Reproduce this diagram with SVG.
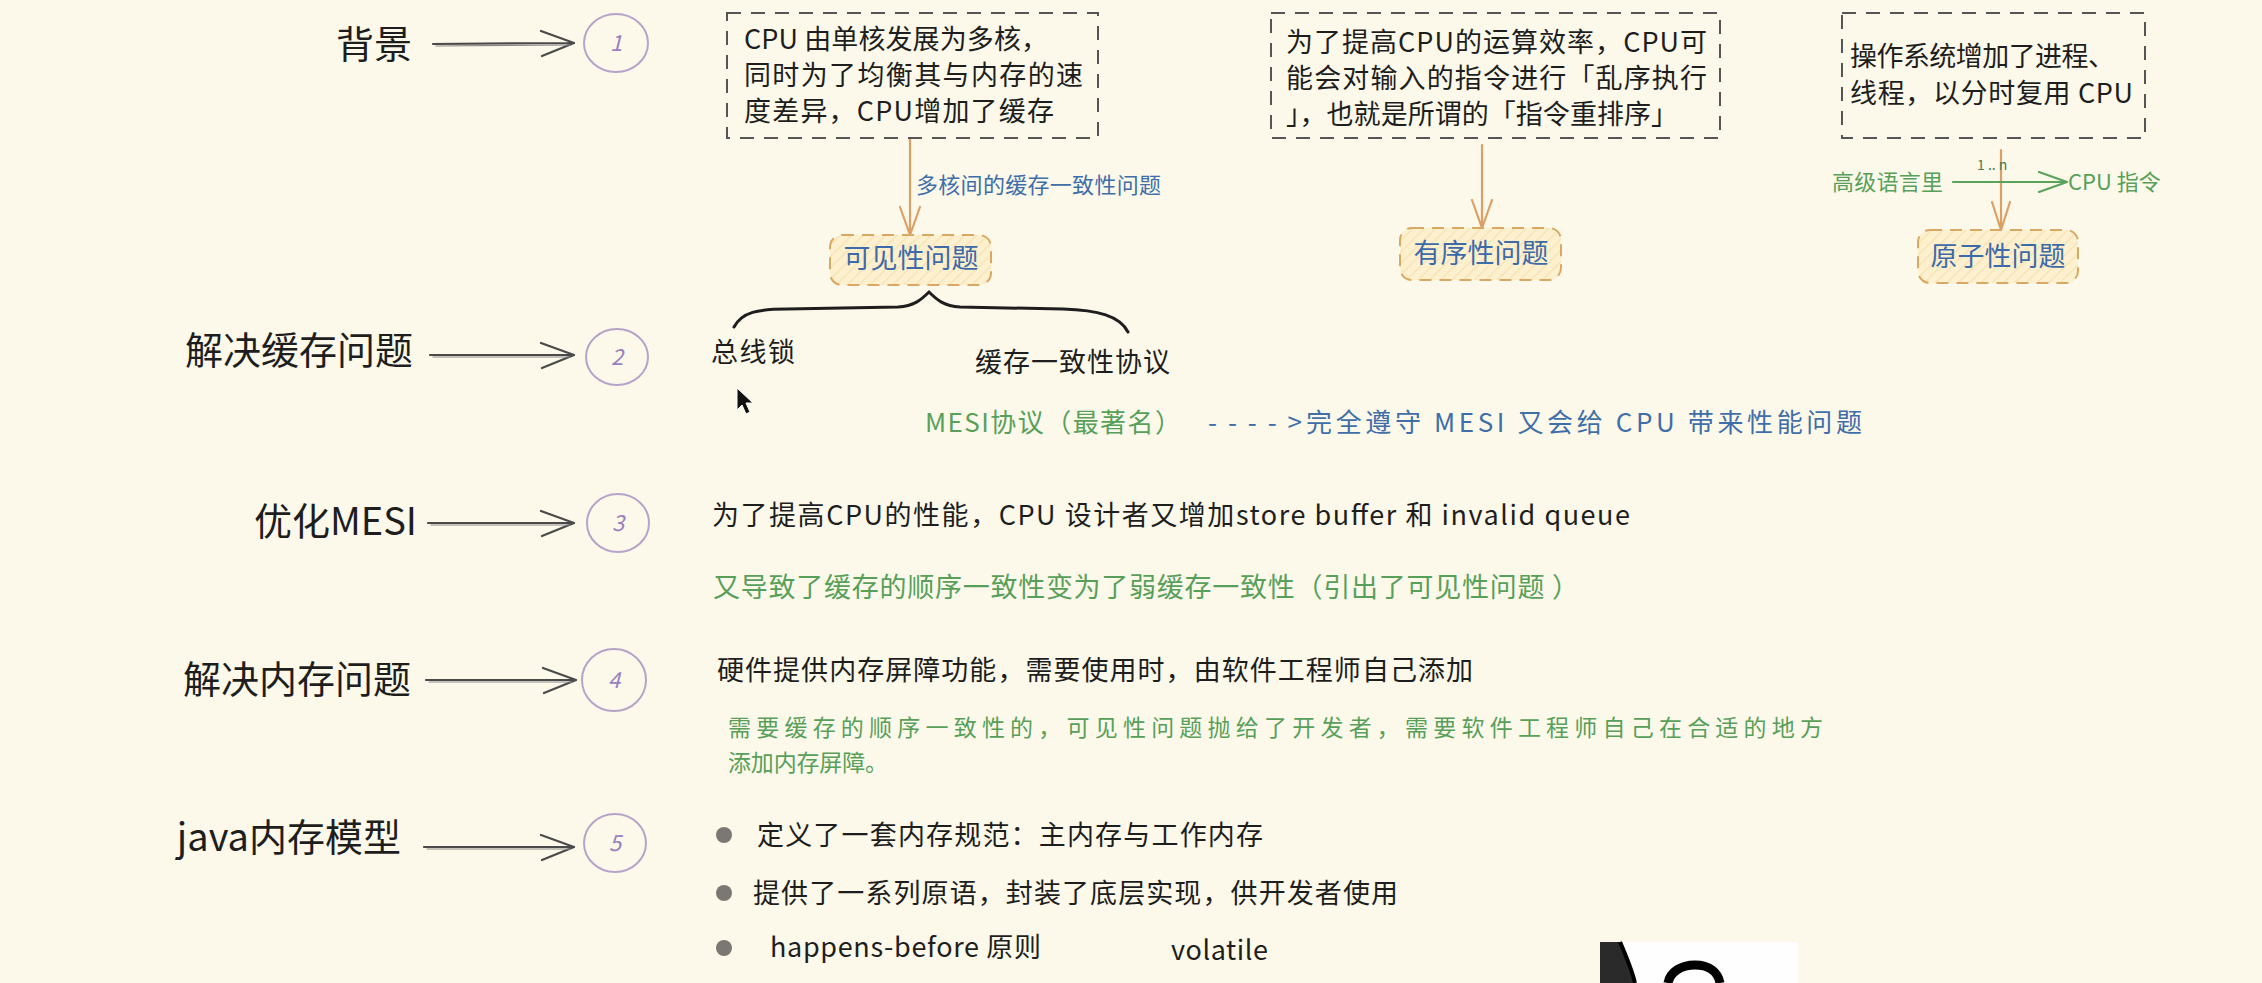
<svg xmlns="http://www.w3.org/2000/svg" width="2262" height="983" viewBox="0 0 2262 983">
<defs>
<pattern id="hatch" width="8" height="8" patternUnits="userSpaceOnUse" patternTransform="rotate(45)">
<rect width="8" height="8" fill="#fcf0cf"/>
<line x1="0" y1="0" x2="0" y2="8" stroke="#f6e2b2" stroke-width="2.5"/>
</pattern>
<style>
text { font-family: "Noto Sans CJK SC", "Noto Sans", "Liberation Sans", sans-serif; }
.title { font-size: 38px; fill: #1e1e1e; text-anchor: end; }
.num { font-size: 22px; fill: #9a80bf; text-anchor: middle; font-style: italic; }
.ring { fill: none; stroke: #b6a3c9; stroke-width: 2; }
.sk { fill: none; stroke: #4a4a4a; stroke-width: 2.2; stroke-linecap: round; stroke-linejoin: round; }
.sk2 { fill: none; stroke: #8a8a8a; stroke-width: 1.2; stroke-linecap: round; }
.dbox { fill: none; stroke: #555; stroke-width: 2; stroke-dasharray: 14 10; }
.pbox { fill: url(#hatch); stroke: #d9a862; stroke-width: 2; stroke-dasharray: 12 8; }
.orange { fill: none; stroke: #dca066; stroke-width: 2.2; stroke-linecap: round; stroke-linejoin: round; }
.green { fill: none; stroke: #5aa35c; stroke-width: 2.2; stroke-linecap: round; stroke-linejoin: round; }
.body { font-size: 27px; fill: #1e1e1e; }
.ptxt { font-size: 27px; fill: #3d6aa8; text-anchor: middle; }
.blue { fill: #3f6ea9; }
.gtxt { fill: #58a05a; }
.bullet { fill: #7b7873; }
</style>
</defs>
<rect x="0" y="0" width="2262" height="983" fill="#fcf9ea"/>

<g id="connectors">
  <g id="arrow-1"><path class="sk" d="M433,44 L574,43 M541,31 L574,43 L542,56"/><path class="sk2" d="M436,46 L570,45"/></g>
  <g id="arrow-2"><path class="sk" d="M430,355 L574,355 M541,343 L574,355 L542,368"/><path class="sk2" d="M433,357 L570,357"/></g>
  <g id="arrow-3"><path class="sk" d="M428,523 L574,523 M541,511 L574,523 L542,536"/><path class="sk2" d="M431,525 L570,525"/></g>
  <g id="arrow-4"><path class="sk" d="M426,680 L576,680 M543,668 L576,680 L544,693"/><path class="sk2" d="M429,682 L572,682"/></g>
  <g id="arrow-5"><path class="sk" d="M424,847 L574,847 M541,835 L574,847 L542,860"/><path class="sk2" d="M427,849 L570,849"/></g>
  <path class="orange" d="M910,139 L910,235 M900,207 L910,235 L920,207"/>
  <path class="orange" d="M1482,145 L1482,228 M1472,200 L1482,228 L1492,200"/>
  <path class="orange" d="M2001,150 L2001,230 M1992,202 L2001,230 L2010,202"/>
  <path class="green" d="M1953,182 L2067,182 M2039,172 L2067,182 L2039,192"/>
  <path fill="none" stroke="#1e1e1e" stroke-width="3" stroke-linecap="round" d="M734,327 C742,312 758,309 787,309 L898,307 C914,306 921,300 929,292 C937,300 944,306 960,307 L1063,309 C1098,310 1120,316 1128,332"/>
</g>

<g id="row1-title"><text class="title" x="412" y="58">背景</text></g>
<g id="circle-1"><ellipse class="ring" cx="616" cy="43" rx="32" ry="29"/><text class="num" x="616" y="51">1</text></g>
<g id="row2-title"><text class="title" x="413" y="364">解决缓存问题</text></g>
<g id="circle-2"><ellipse class="ring" cx="617" cy="357" rx="31" ry="28"/><text class="num" x="617" y="365">2</text></g>
<g id="row3-title"><text class="title" x="417" y="535">优化MESI</text></g>
<g id="circle-3"><ellipse class="ring" cx="618" cy="523" rx="31" ry="29"/><text class="num" x="618" y="531">3</text></g>
<g id="row4-title"><text class="title" x="411" y="693">解决内存问题</text></g>
<g id="circle-4"><ellipse class="ring" cx="614" cy="680" rx="32" ry="31"/><text class="num" x="614" y="688">4</text></g>
<g id="row5-title"><text class="title" x="401" y="851">java内存模型</text></g>
<g id="circle-5"><ellipse class="ring" cx="615" cy="843" rx="31" ry="29"/><text class="num" x="615" y="851">5</text></g>

<g id="box-multicore">
  <rect class="dbox" x="727" y="13" width="371" height="125"/>
  <text class="body" font-size="28" x="744" y="49" textLength="304">CPU 由单核发展为多核，</text>
  <text class="body" font-size="28" x="744" y="85" textLength="339">同时为了均衡其与内存的速</text>
  <text class="body" font-size="28" x="744" y="121" textLength="310">度差异，CPU增加了缓存</text>
</g>
<g id="label-multicore"><text x="916" y="193" font-size="22" class="blue" textLength="245">多核间的缓存一致性问题</text></g>
<g id="node-visibility">
  <rect class="pbox" x="830" y="235" width="161" height="50" rx="12"/>
  <text class="ptxt" x="911" y="268">可见性问题</text>
</g>

<g id="box-reorder">
  <rect class="dbox" x="1271" y="13" width="449" height="125"/>
  <text class="body" font-size="28" x="1286" y="52" textLength="421">为了提高CPU的运算效率，CPU可</text>
  <text class="body" font-size="28" x="1286" y="88" textLength="421">能会对输入的指令进行「乱序执行</text>
  <text class="body" font-size="28" x="1286" y="124" textLength="392">」，也就是所谓的「指令重排序」</text>
</g>
<g id="node-ordering">
  <rect class="pbox" x="1400" y="228" width="161" height="52" rx="12"/>
  <text class="ptxt" x="1481" y="263">有序性问题</text>
</g>

<g id="box-os">
  <rect class="dbox" x="1842" y="13" width="303" height="125"/>
  <text class="body" font-size="27" x="1850" y="66" textLength="265">操作系统增加了进程、</text>
  <text class="body" font-size="27" x="1850" y="103" textLength="283">线程，以分时复用 CPU</text>
</g>
<g id="label-highlevel">
  <text x="1832" y="190" font-size="22" class="gtxt" textLength="111">高级语言里</text>
  <text x="1977" y="170" font-size="14" fill="#4e7a50">1 .. n</text>
  <text x="2068" y="190" font-size="22" class="gtxt">CPU 指令</text>
</g>
<g id="node-atomicity">
  <rect class="pbox" x="1918" y="230" width="160" height="53" rx="12"/>
  <text class="ptxt" x="1998" y="266">原子性问题</text>
</g>

<g id="row2-content">
  <text class="body" x="711" y="362" textLength="84">总线锁</text>
  <text class="body" x="975" y="372" textLength="195">缓存一致性协议</text>
  <text x="925" y="432" font-size="26" class="gtxt" textLength="256">MESI协议（最著名）</text>
  <text x="1208" y="432" font-size="26" class="blue"><tspan x="1208" textLength="94">----&gt;</tspan><tspan x="1306" textLength="556">完全遵守 MESI 又会给 CPU 带来性能问题</tspan></text>
  <path d="M737,388 L737,410 L742,405 L746,414 L750,412 L746,403 L753,403 Z" fill="#111" stroke="#fff" stroke-width="1"/>
</g>

<g id="row3-content">
  <text class="body" x="712" y="525" textLength="918">为了提高CPU的性能，CPU 设计者又增加store buffer 和 invalid queue</text>
  <text x="713" y="597" font-size="27" class="gtxt" textLength="866">又导致了缓存的顺序一致性变为了弱缓存一致性（引出了可见性问题 ）</text>
</g>

<g id="row4-content">
  <text class="body" x="717" y="680" textLength="756">硬件提供内存屏障功能，需要使用时，由软件工程师自己添加</text>
  <text x="728" y="736" font-size="23" class="gtxt" textLength="1095">需要缓存的顺序一致性的，可见性问题抛给了开发者，需要软件工程师自己在合适的地方</text>
  <text x="728" y="771" font-size="23" class="gtxt" textLength="160">添加内存屏障。</text>
</g>

<g id="row5-content">
  <circle class="bullet" cx="724" cy="835" r="8"/>
  <text class="body" x="757" y="845" textLength="506">定义了一套内存规范：主内存与工作内存</text>
  <circle class="bullet" cx="724" cy="893" r="8"/>
  <text class="body" x="753" y="903" textLength="645">提供了一系列原语，封装了底层实现，供开发者使用</text>
  <circle class="bullet" cx="724" cy="948" r="8"/>
  <text class="body" x="770" y="957" textLength="271">happens-before 原则</text>
  <text class="body" x="1171" y="960" textLength="97">volatile</text>
</g>

<g id="image-fragment">
  <rect x="1600" y="942" width="198" height="41" fill="#fefefe"/>
  <path d="M1600,942 L1622,942 C1628,958 1632,970 1635,983 L1600,983 Z" fill="#2a2a2a"/>
  <path d="M1620,942 C1627,958 1632,970 1635,983" fill="none" stroke="#000" stroke-width="4"/>
  <path d="M1668,983 C1670,972 1681,965 1695,965 C1709,965 1718,972 1720,983" fill="none" stroke="#000" stroke-width="9"/>
</g>
</svg>
